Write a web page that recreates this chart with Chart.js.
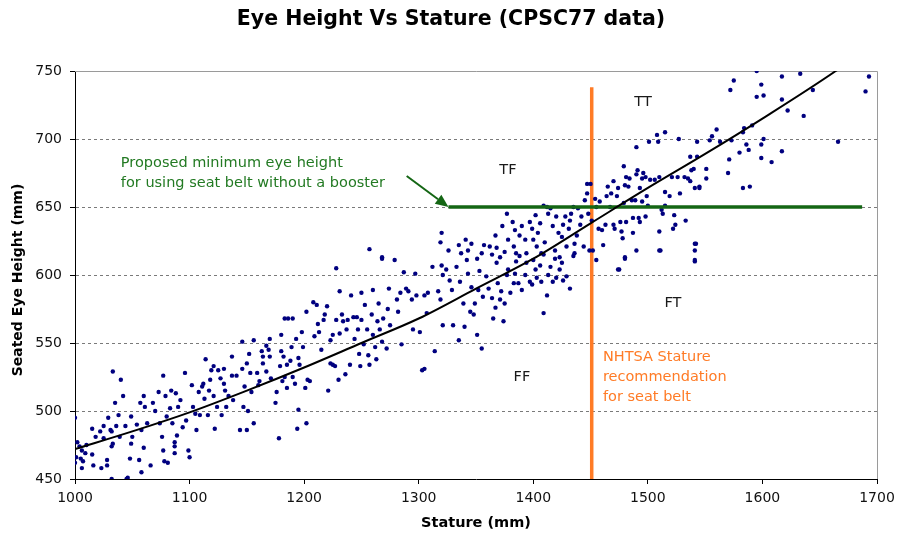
<!DOCTYPE html>
<html>
<head>
<meta charset="utf-8">
<script src="https://cdn.jsdelivr.net/npm/chart.js@4.4.1/dist/chart.umd.min.js"></script>
<style>
html,body{margin:0;padding:0;background:#fff;}
#wrap{width:897px;height:536px;position:relative;}
</style>
</head>
<body>
<div id="wrap"><canvas id="c" width="897" height="536"></canvas></div>
<script>
// ---- Data ----
const statureMm = [
1000,1002,1001,1000,1004,1006,1005,1006,1007,1009,1010,1015,1015,1016,1018,1022,1023,1025,1025,1028,1028,1029,1031,1032,1032,1032,1033,1033,1035,1036,1038,1039,1040,1042,1044,1045,1046,1048,1049,1049,1050,1054,1056,1057,1058,1058,1060,1060,1061,1063,1066,1068,1070,1073,1074,1076,1077,1077,1078,1079,1080,1081,1083,1084,1085,1087,1087,1087,1088,1089,1090,1092,1094,1096,1097,1099,1100,1102,1103,1105,1106,1108,1109,1111,1112,1113,1114,1116,1117,1118,1119,1121,1121,1122,1124,1125,1127,1128,1130,1130,1131,1132,1134,1137,1137,1138,1141,1144,1146,1146,1147,1148,1150,1150,1151,1152,1153,1154,1156,1156,1159,1160,1161,1163,1164,1164,1167,1167,1169,1170,1170,1171,1175,1176,1178,1179,1180,1180,1181,1182,1183,1183,1185,1185,1186,1188,1189,1190,1190,1192,1193,1194,1195,1195,1196,1198,1199,1201,1202,1202,1203,1205,1208,1209,1211,1212,1213,1215,1217,1218,1220,1221,1223,1223,1225,1225,1227,1228,1228,1230,1231,1231,1233,1234,1236,1237,1238,1240,1241,1243,1244,1246,1247,1248,
1249,1250,1250,1252,1253,1255,1256,1257,1259,1260,1260,1262,1263,1264,1265,1266,1268,1268,1269,1272,1273,1274,1275,1279,1281,1282,1284,1285,1287,1289,1291,1294,1295,1297,1298,1301,1303,1305,1305,1307,1308,1312,1314,1317,1319,1320,1321,1321,1324,1327,1329,1330,1333,1335,1336,1339,1340,1342,1343,1345,1346,1348,1349,1351,1352,1353,1355,1356,1359,1361,1364,1365,1367,1368,1369,1371,1372,1374,1375,1377,1378,1380,1383,1384,1385,1387,1388,1390,1393,1394,1397,1399,1400,1402,1403,1406,1407,1409,1409,1412,1413,1415,1417,1419,1420,1423,1425,1426,1429,1432,1435,1436,1455,1474,
1257,1268,1320,1319,1326,1335,1337,1341,1343,1346,1351,1355,1357,1362,1364,1367,1368,1371,1373,1375,1377,1378,1382,1383,1384,1385,1388,1390,1393,1394,1397,1399,1400,1402,1403,1404,1406,1407,1409,1410,1412,1413,1415,1417,1419,1420,1422,1423,1425,1426,1428,1429,1431,1432,1433,1435,1436,1438,1439,1441,1442,1444,1445,1447,1447,1448,1449,1450,1451,1452,1454,1455,1457,
1458,1460,1461,1463,1464,1465,1467,1468,1470,1470,1471,1473,1474,1476,1477,1478,1479,1479,1480,1480,1481,1481,1483,1484,1486,1487,1487,1489,1490,1490,1491,1492,1493,1493,1495,1495,1496,1498,1498,1499,1500,1501,1502,1506,1508,1509,1510,1510,1511,1512,1513,1515,1515,1515,1519,1521,1522,1523,1524,1526,1527,1528,1532,1533,1535,1537,1537,1538,1540,1541,1541,1541,1542,1543,1543,1545,1545,1551,1551,1554,1556,1560,1563,1570,1571,1572,1573,1575,1580,1583,1583,1584,1586,1588,1589,1591,1595,1595,1599,1599,1599,1601,1601,1608,1617,1617,1617,1622,1633,1636,1644,1666,1690,1693,
1475,1480,1490,1510,1541,1541
];
const eyeHeightMm = [
495,477,466,462,474,471,465,458,463,469,475,487,468,460,481,485,458,489,480,464,460,495,486,485,474,450,529,476,506,489,497,481,523,511,489,450,451,465,476,496,481,490,464,506,455,486,511,473,503,491,460,506,500,514,491,481,526,471,463,511,496,462,502,515,491,477,474,469,513,482,503,508,488,528,493,471,466,519,503,498,486,514,497,518,520,509,538,497,515,523,530,533,511,487,503,530,524,497,520,531,515,503,511,540,526,508,526,486,551,531,503,518,486,535,500,542,528,514,552,491,528,519,522,544,535,540,529,548,545,553,540,524,506,514,480,533,544,556,522,540,568,525,517,534,568,537,547,568,525,520,553,487,539,501,534,558,547,517,573,491,523,522,580,555,578,564,558,545,567,571,577,515,552,535,534,556,533,605,567,523,588,557,571,566,527,560,567,534,585,569,553,569,560,542,
533,587,567,549,578,560,541,534,571,589,556,547,538,566,579,560,612,551,568,546,575,590,563,611,582,573,587,549,602,590,588,582,560,601,585,558,530,531,585,572,587,606,544,588,582,607,600,563,604,596,589,563,606,552,595,579,562,611,601,573,591,571,579,556,589,603,546,584,599,590,583,568,576,609,594,582,588,566,579,600,604,587,594,601,610,594,614,589,600,609,595,593,611,604,598,607,595,615,572,585,600,606,595,612,598,604,609,596,599,590,614,616,611,604,
619,613,631,624,618,622,616,626,618,623,612,616,622,621,615,629,620,613,636,617,645,626,639,621,633,616,629,636,626,616,639,634,626,644,621,631,638,616,651,624,650,645,649,636,618,643,631,613,628,637,643,621,634,640,645,650,623,629,649,637,643,621,655,667,660,645,618,667,640,618,656,650,634,
654,633,622,637,658,665,650,660,637,669,634,658,664,639,632,627,653,680,666,612,639,672,665,671,655,631,642,655,694,674,677,642,639,664,671,654,675,643,672,658,651,698,670,670,703,698,632,672,618,648,645,705,661,651,658,672,634,644,637,672,700,660,672,640,671,669,687,677,678,623,611,664,623,698,687,665,664,671,678,699,702,707,698,675,685,736,699,743,690,664,705,708,696,692,665,710,731,750,740,696,686,700,732,683,746,691,729,721,748,717,736,698,735,746,
604,613,618,618,618,610
];
// Fitted curve
const trendX = [1000,1050,1100,1150,1200,1250,1300,1350,1400,1450,1500,1550,1600,1664,1690];
const trendY = [472,485,499,515,532,550,568,590,612,638,664,689,715,750,766];
// Reference lines
const minEyeHeight = 650;          // green line value
const minEyeFrom = 1326, minEyeTo = 1687;
const nhtsaStature = 1451;          // orange line value
const nhtsaTop = 738;
// Axis ticks
const xTicks = [1000,1100,1200,1300,1400,1500,1600,1700];
const yTicks = [450,500,550,600,650,700,750];

const GREEN_LINE = '#146614';
const GREEN_TEXT = '#237a23';
const ORANGE = '#ff7b26';
const NAVY = '#00007f';
const FONT = '"DejaVu Sans", Verdana, sans-serif';

const points = statureMm.map((x,i)=>({x:x, y:eyeHeightMm[i]}));
const trend = trendX.map((x,i)=>({x:x, y:trendY[i]}));

const decor = {
  id:'decor',
  beforeDatasetsDraw(chart){
    const {ctx, chartArea:a, scales:{x,y}} = chart;
    ctx.save();
    ctx.strokeStyle = '#7a7a7a';
    ctx.lineWidth = 1;
    ctx.setLineDash([3,3]);
    yTicks.forEach(v=>{
      if (v===yTicks[0] || v===yTicks[yTicks.length-1]) return;
      const py = Math.round(y.getPixelForValue(v))+0.5;
      ctx.beginPath(); ctx.moveTo(a.left+1, py); ctx.lineTo(a.right, py); ctx.stroke();
    });
    ctx.setLineDash([]);
    ctx.strokeStyle = '#9a9a9a';
    const top = Math.round(y.getPixelForValue(yTicks[yTicks.length-1]))+0.5;
    const rx = Math.round(x.getPixelForValue(xTicks[xTicks.length-1]))+0.5;
    ctx.beginPath(); ctx.moveTo(a.left, top); ctx.lineTo(rx, top); ctx.lineTo(rx, a.bottom); ctx.stroke();
    ctx.restore();
  },
  afterDatasetsDraw(chart){
    const {ctx, chartArea:a, scales:{x,y}} = chart;
    ctx.save();
    // arrow
    const x0 = x.getPixelForValue(1289.5), y0 = y.getPixelForValue(672.8);
    const x1 = x.getPixelForValue(minEyeFrom), y1 = y.getPixelForValue(minEyeHeight);
    const ang = Math.atan2(y1-y0, x1-x0);
    const L = 13, W = 5.5;
    ctx.strokeStyle = GREEN_LINE; ctx.fillStyle = GREEN_LINE; ctx.lineWidth = 2;
    ctx.beginPath(); ctx.moveTo(x0,y0);
    ctx.lineTo(x1 - L*Math.cos(ang), y1 - L*Math.sin(ang)); ctx.stroke();
    ctx.beginPath();
    ctx.moveTo(x1,y1);
    ctx.lineTo(x1 - L*Math.cos(ang) + W*Math.sin(ang), y1 - L*Math.sin(ang) - W*Math.cos(ang));
    ctx.lineTo(x1 - L*Math.cos(ang) - W*Math.sin(ang), y1 - L*Math.sin(ang) + W*Math.cos(ang));
    ctx.closePath(); ctx.fill();

    ctx.textBaseline = 'middle';
    // green text
    ctx.font = '14.5px ' + FONT; ctx.fillStyle = GREEN_TEXT; ctx.textAlign = 'left';
    ctx.fillText('Proposed minimum eye height', x.getPixelForValue(1040), y.getPixelForValue(682.4));
    ctx.fillText('for using seat belt without a booster', x.getPixelForValue(1040), y.getPixelForValue(667.7));
    // orange text
    ctx.fillStyle = ORANGE;
    ctx.fillText('NHTSA Stature', x.getPixelForValue(1460.8), y.getPixelForValue(539.7));
    ctx.fillText('recommendation', x.getPixelForValue(1460.8), y.getPixelForValue(525));
    ctx.fillText('for seat belt', x.getPixelForValue(1460.8), y.getPixelForValue(510.3));
    // quadrant labels
    ctx.fillStyle = '#1a1a1a'; ctx.textAlign = 'center'; ctx.font = '14.5px ' + FONT;
    ctx.fillText('TT', x.getPixelForValue(1495.8), y.getPixelForValue(727.2));
    ctx.fillText('TF', x.getPixelForValue(1377.9), y.getPixelForValue(677.2));
    ctx.fillText('FT', x.getPixelForValue(1521.9), y.getPixelForValue(579.4));
    ctx.fillText('FF', x.getPixelForValue(1390.1), y.getPixelForValue(525));
    // titles
    ctx.fillStyle = '#000';
    ctx.font = 'bold 20.5px ' + FONT;
    ctx.fillText('Eye Height Vs Stature (CPSC77 data)', 451, 20);
    ctx.font = 'bold 14.5px ' + FONT;
    ctx.fillText('Stature (mm)', (a.left+a.right)/2, 523);
    ctx.translate(18, 280); ctx.rotate(-Math.PI/2);
    ctx.font = 'bold 14px ' + FONT;
    ctx.fillText('Seated Eye Height (mm)', 0, 0);
    ctx.restore();
  }
};

new Chart(document.getElementById('c'), {
  type:'scatter',
  data:{datasets:[
    {type:'line', label:'Trend', data:trend, borderColor:'#000', borderWidth:2, pointRadius:0, fill:false, cubicInterpolationMode:'monotone', order:0},
    {type:'line', label:'Min eye height', data:[{x:minEyeFrom,y:minEyeHeight},{x:minEyeTo,y:minEyeHeight}], borderColor:GREEN_LINE, borderWidth:3.5, pointRadius:0, fill:false, order:1},
    {label:'CPSC77', data:points, backgroundColor:NAVY, borderColor:NAVY, borderWidth:0, pointRadius:2.2, pointStyle:'circle', order:2},
    {type:'line', label:'NHTSA', data:[{x:nhtsaStature,y:yTicks[0]},{x:nhtsaStature,y:nhtsaTop}], borderColor:ORANGE, borderWidth:3.5, pointRadius:0, fill:false, order:3}
  ]},
  options:{
    responsive:false, animation:false,
    layout:{padding:{top:71, right:20, left:0, bottom:0}},
    plugins:{legend:{display:false}, tooltip:{enabled:false}, title:{display:false}},
    scales:{
      x:{type:'linear', min:xTicks[0], max:xTicks[xTicks.length-1],
        afterBuildTicks(s){ s.ticks = xTicks.map(v=>({value:v})); },
        afterFit(s){ s.height = 57; s.paddingRight = 0; s.paddingLeft = 0; },
        ticks:{font:{family:FONT, size:14}, color:'#111', padding:6, maxRotation:0, callback:(v)=>String(v)},
        grid:{drawOnChartArea:false, drawTicks:true, tickLength:5, color:'#000'},
        border:{display:true, color:'#000', width:1}
      },
      y:{type:'linear', min:yTicks[0], max:yTicks[yTicks.length-1],
        afterBuildTicks(s){ s.ticks = yTicks.map(v=>({value:v})); },
        afterFit(s){ s.width = 75; s.paddingTop = 0; s.paddingBottom = 0; },
        ticks:{font:{family:FONT, size:14}, color:'#111', padding:8, callback:(v)=>String(v)},
        grid:{drawOnChartArea:false, drawTicks:true, tickLength:5, color:'#000'},
        border:{display:true, color:'#000', width:1}
      }
    }
  },
  plugins:[decor]
});
</script>
</body>
</html>
